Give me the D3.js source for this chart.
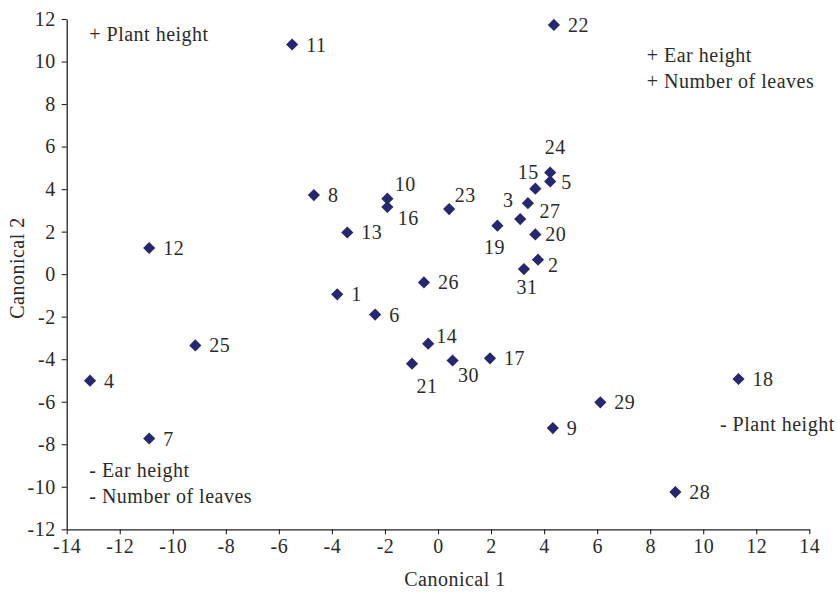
<!DOCTYPE html>
<html>
<head>
<meta charset="utf-8">
<script src="https://cdn.jsdelivr.net/npm/d3@7"></script>
<style>
  html, body { margin: 0; padding: 0; background: #fff; }
  text { font-family: "Liberation Serif", "DejaVu Serif", serif; fill: #2b2b2b; letter-spacing: 0.5px; }
</style>
</head>
<body>
<svg id="chart" width="837" height="594"></svg>
<script>
// ---- Data ----
const ids = [1,2,3,4,5,6,7,8,9,10,11,12,13,14,15,16,17,18,19,20,21,22,23,24,25,26,27,28,29,30,31];
const canonical1 = [-3.80, 3.77, 3.10, -13.12, 4.23, -2.37, -10.89, -4.68, 4.33, -1.91, -5.50, -10.89, -3.42, -0.37, 3.67, -1.91, 1.96, 11.33, 2.24, 3.67, -0.98, 4.37, 0.42, 4.23, -9.15, -0.53, 3.39, 8.95, 6.12, 0.55, 3.24];
const canonical2 = [-0.95, 0.68, 2.59, -5.01, 4.36, -1.90, -7.73, 3.72, -7.24, 3.55, 10.80, 1.23, 1.96, -3.27, 4.02, 3.16, -3.96, -4.93, 2.28, 1.87, -4.21, 11.72, 3.06, 4.78, -3.35, -0.39, 3.34, -10.25, -6.03, -4.06, 0.24];
const xTicks = [-14,-12,-10,-8,-6,-4,-2,0,2,4,6,8,10,12,14];
const yTicks = [-12,-10,-8,-6,-4,-2,0,2,4,6,8,10,12];
const annotationTexts = ["+ Plant height", "+ Ear height", "+ Number of leaves", "- Ear height", "- Number of leaves", "- Plant height"];
const annotationX = [-13.15, 7.87, 7.87, -13.15, -13.15, 10.63];
const annotationY = [10.95, 9.97, 8.77, -9.53, -10.75, -7.39];
const xTitle = "Canonical 1";
const yTitle = "Canonical 2";

// ---- Layout ----
const svg = d3.select("#chart");
const plotLeft = 66.7, plotRight = 809.3, plotTop = 19, plotBottom = 529.3;
const x = d3.scaleLinear().domain([-14, 14]).range([plotLeft, plotRight]);
const y = d3.scaleLinear().domain([-12, 12]).range([plotBottom, plotTop]);
const fontSize = 20;
const markerColor = "#272770";
const axisColor = "#222";

// axes
const xAxis = d3.axisBottom(x).tickValues(xTicks).tickSize(5).tickSizeOuter(0).tickPadding(5);
const yAxis = d3.axisLeft(y).tickValues(yTicks).tickSize(5).tickSizeOuter(0).tickPadding(6);

const gx = svg.append("g").attr("transform", `translate(0,${plotBottom})`).call(xAxis);
const gy = svg.append("g").attr("transform", `translate(${plotLeft},0)`).call(yAxis);
[gx, gy].forEach(g => {
  g.selectAll("path.domain").attr("stroke", axisColor).attr("stroke-width", 1.3);
  g.selectAll(".tick line").attr("stroke", axisColor).attr("stroke-width", 1.1);
  g.selectAll(".tick text").style("font-family", '"Liberation Serif", serif').style("font-size", fontSize + "px").attr("fill", "#2b2b2b");
});
// plain hyphen for negatives, as in the reference
gx.selectAll(".tick text").text(d => String(d));
gy.selectAll(".tick text").text(d => String(d));

// axis titles
svg.append("text").attr("x", 455).attr("y", 586).attr("text-anchor", "middle")
  .style("font-size", fontSize + "px").text(xTitle);
svg.append("text").attr("transform", "translate(24,268) rotate(-90)").attr("text-anchor", "middle")
  .style("font-size", fontSize + "px").text(yTitle);

// points
const data = ids.map((id, i) => ({ id, cx: canonical1[i], cy: canonical2[i] }));
const diamond = d3.symbol().type(d3.symbolSquare).size(74);
svg.append("g").selectAll("path").data(data).join("path")
  .attr("d", diamond)
  .attr("transform", d => `translate(${x(d.cx)},${y(d.cy)}) rotate(45)`)
  .attr("fill", markerColor);

// label placement (pixel offsets from marker)
const placement = {
  10: [18, -15, "middle"], 16: [21, 11, "middle"], 24: [5, -26, "middle"],
  15: [-7, -17, "middle"], 5: [11, 1, "start"], 27: [22, 8, "middle"],
  3: [-12, -19, "middle"], 19: [-3, 21, "middle"], 20: [10, 0, "start"],
  2: [10, 5, "start"], 31: [3, 18, "middle"], 23: [16, -14, "middle"],
  14: [8, -8, "start"], 30: [16, 15, "middle"], 21: [15, 22, "middle"]
};
svg.append("g").selectAll("text").data(data).join("text")
  .attr("x", d => x(d.cx) + (placement[d.id] ? placement[d.id][0] : 14))
  .attr("y", d => y(d.cy) + (placement[d.id] ? placement[d.id][1] : 0))
  .attr("dy", "0.35em")
  .attr("text-anchor", d => placement[d.id] ? placement[d.id][2] : "start")
  .style("font-size", fontSize + "px")
  .text(d => d.id);

// annotations
svg.append("g").selectAll("text").data(annotationTexts).join("text")
  .attr("x", (d, i) => x(annotationX[i]))
  .attr("y", (d, i) => y(annotationY[i]))
  .style("font-size", fontSize + "px")
  .text(d => d);
</script>
</body>
</html>
